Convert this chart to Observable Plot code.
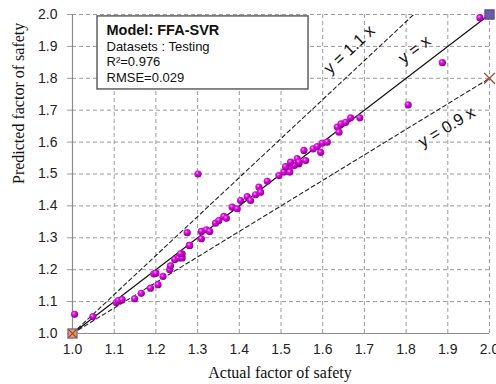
<!DOCTYPE html>
<html>
<head>
<meta charset="utf-8">
<script src="https://cdn.jsdelivr.net/npm/d3@7"></script>
<script src="https://cdn.jsdelivr.net/npm/@observablehq/plot@0.6"></script>
<style>
  html, body { margin: 0; padding: 0; background: #fff; }
</style>
</head>
<body>
<div id="chart"></div>
<script>
// ---- data ----
const ticks = [1.0, 1.1, 1.2, 1.3, 1.4, 1.5, 1.6, 1.7, 1.8, 1.9, 2.0];
const actual = [
  1.005, 1.049, 1.105, 1.11, 1.119, 1.149, 1.165, 1.187, 1.205, 1.217, 1.195, 1.20,
  1.233, 1.235, 1.245, 1.255, 1.263, 1.263, 1.259, 1.28, 1.275, 1.281, 1.301,
  1.309, 1.309, 1.321, 1.329, 1.343, 1.351, 1.363, 1.369, 1.383, 1.395, 1.403,
  1.419, 1.427, 1.439, 1.447, 1.451, 1.467, 1.495, 1.507, 1.519, 1.521, 1.532,
  1.543, 1.511, 1.523, 1.539, 1.543, 1.555, 1.559, 1.577, 1.587, 1.595, 1.599,
  1.611, 1.635, 1.639, 1.644, 1.655, 1.667, 1.689, 1.805, 1.887, 1.977
];
const predicted = [
  1.060, 1.053, 1.097, 1.103, 1.106, 1.109, 1.126, 1.142, 1.153, 1.179, 1.187, 1.189,
  1.200, 1.212, 1.232, 1.237, 1.237, 1.250, 1.250, 1.276, 1.316, 1.276, 1.500,
  1.320, 1.297, 1.325, 1.320, 1.346, 1.354, 1.367, 1.361, 1.396, 1.391, 1.417,
  1.429, 1.417, 1.435, 1.459, 1.443, 1.477, 1.495, 1.506, 1.516, 1.506, 1.527,
  1.532, 1.523, 1.537, 1.548, 1.537, 1.574, 1.542, 1.579, 1.586, 1.568, 1.597,
  1.600, 1.647, 1.631, 1.657, 1.662, 1.676, 1.676, 1.717, 1.849, 1.990
];
const slopes = [1.1, 1.0, 0.9];
const slopeLabels = ["y = 1.1 x", "y = x", "y = 0.9 x"];
const legendLines = ["Model: FFA-SVR", "Datasets : Testing", "R\u00b2=0.976", "RMSE=0.029"];
const xTitle = "Actual factor of safety";
const yTitle = "Predicted factor of safety";

const points = actual.map((a, i) => ({a, p: predicted[i]}));
// reference lines from (1,1) to where y = kx meets the top/right edge
const refSegments = slopes.flatMap((k, i) => [
  {k: i, x: 1, y: 1},
  {k: i, x: k > 1 ? 2 / k : 2, y: k > 1 ? 2 : 2 * k}
]);

const chart = Plot.plot({
  width: 496,
  height: 384,
  marginLeft: 72,
  marginRight: 7,
  marginTop: 14,
  marginBottom: 51,
  x: {domain: [1, 2]},
  y: {domain: [1, 2]},
  style: {fontFamily: "'Liberation Sans', Arial, sans-serif", fontSize: "14px", color: "#222", background: "#fff"},
  marks: [
    Plot.gridX(ticks, {stroke: "#9a9a9a", strokeOpacity: 1, strokeDasharray: "4,3"}),
    Plot.gridY(ticks, {stroke: "#9a9a9a", strokeOpacity: 1, strokeDasharray: "4,3"}),
    Plot.ruleX([1], {stroke: "#8c8c8c", strokeWidth: 1.2}),
    Plot.ruleY([1], {stroke: "#8c8c8c", strokeWidth: 1.2}),
    Plot.axisX(ticks, {tickFormat: d => d.toFixed(1), tickSize: 0, tickPadding: 11, fontSize: 14}),
    Plot.axisY(ticks, {tickFormat: d => d.toFixed(1), tickSize: 5, tickPadding: 10, stroke: "#9a9a9a", fontSize: 14}),
    // reference lines
    Plot.line(refSegments.filter(d => slopes[d.k] !== 1), {x: "x", y: "y", z: "k", stroke: "#222", strokeWidth: 1.1, strokeDasharray: "4,3"}),
    Plot.line(refSegments.filter(d => slopes[d.k] === 1), {x: "x", y: "y", stroke: "#111", strokeWidth: 1.2}),
    // labels on lines
    Plot.text([slopeLabels[0]], {x: () => 1.683, y: () => 1.865, dx: -8, dy: -8, text: d => d, rotate: -43, fontSize: 16.5, fill: "#111"}),
    Plot.text([slopeLabels[1]], {x: () => 1.832, y: () => 1.871, dx: -5, dy: -6, text: d => d, rotate: -37, fontSize: 16.5, fill: "#111"}),
    Plot.text([slopeLabels[2]], {x: () => 1.883, y: () => 1.672, dx: 6, dy: 8, text: d => d, rotate: -31, fontSize: 16.5, fill: "#111"}),
    // data points
    Plot.dot(points, {x: "a", y: "p", r: 3.6, fill: "url(#ball)", stroke: "none"}),
    // special markers
    Plot.dot([2], {x: d => d, y: d => d, symbol: "square", r: 5, fill: "#6e5ea8", stroke: "#5a4a90"}),
    Plot.dot([2], {x: d => d, y: d => d * 0.9, symbol: "times", r: 5, stroke: "#9c4a3a", strokeWidth: 1.4}),
    Plot.dot([1], {x: d => d, y: d => d, symbol: "square", r: 5, fill: "#ef9a55", stroke: "#8a6fa0"}),
    Plot.dot([1], {x: d => d, y: d => d, symbol: "times", r: 4, stroke: "#8a4a30", strokeWidth: 1.2}),
    // legend box
    Plot.rect([0], {x1: () => 1.06, x2: () => 1.566, y1: () => 1.765, y2: () => 1.994, fill: "#fff", stroke: "#555", strokeWidth: 1.4}),
    Plot.text([legendLines[0]], {frameAnchor: "top-left", dx: 34, dy: 16, text: d => d, textAnchor: "start", lineAnchor: "middle", fontWeight: "bold", fontSize: 14.5, fill: "#111"}),
    Plot.text([legendLines[1]], {frameAnchor: "top-left", dx: 34, dy: 32, text: d => d, textAnchor: "start", lineAnchor: "middle", fontSize: 13, fill: "#111"}),
    Plot.text([legendLines[2]], {frameAnchor: "top-left", dx: 34, dy: 47.5, text: d => d, textAnchor: "start", lineAnchor: "middle", fontSize: 13, fill: "#111"}),
    Plot.text([legendLines[3]], {frameAnchor: "top-left", dx: 34, dy: 63, text: d => d, textAnchor: "start", lineAnchor: "middle", fontSize: 13, fill: "#111"}),
    // axis titles
    Plot.text([xTitle], {frameAnchor: "bottom", dy: 39, dx: -1, text: d => d, lineAnchor: "middle", fontFamily: "'Liberation Serif', 'Times New Roman', serif", fontSize: 16, fill: "#111"}),
    Plot.text([yTitle], {frameAnchor: "left", dx: -54, dy: 10, rotate: -90, text: d => d, lineAnchor: "middle", fontFamily: "'Liberation Serif', 'Times New Roman', serif", fontSize: 16, fill: "#111"})
  ]
});

// spherical shading for data points
const ns = "http://www.w3.org/2000/svg";
const defs = document.createElementNS(ns, "defs");
const grad = document.createElementNS(ns, "radialGradient");
grad.setAttribute("id", "ball");
grad.setAttribute("cx", "38%");
grad.setAttribute("cy", "35%");
grad.setAttribute("r", "65%");
[["0%", "#f79cf9"], ["35%", "#d811dc"], ["80%", "#b000b4"], ["100%", "#86008a"]].forEach(([o, c]) => {
  const s = document.createElementNS(ns, "stop");
  s.setAttribute("offset", o);
  s.setAttribute("stop-color", c);
  grad.appendChild(s);
});
defs.appendChild(grad);
chart.insertBefore(defs, chart.firstChild);

document.getElementById("chart").appendChild(chart);
</script>
</body>
</html>
